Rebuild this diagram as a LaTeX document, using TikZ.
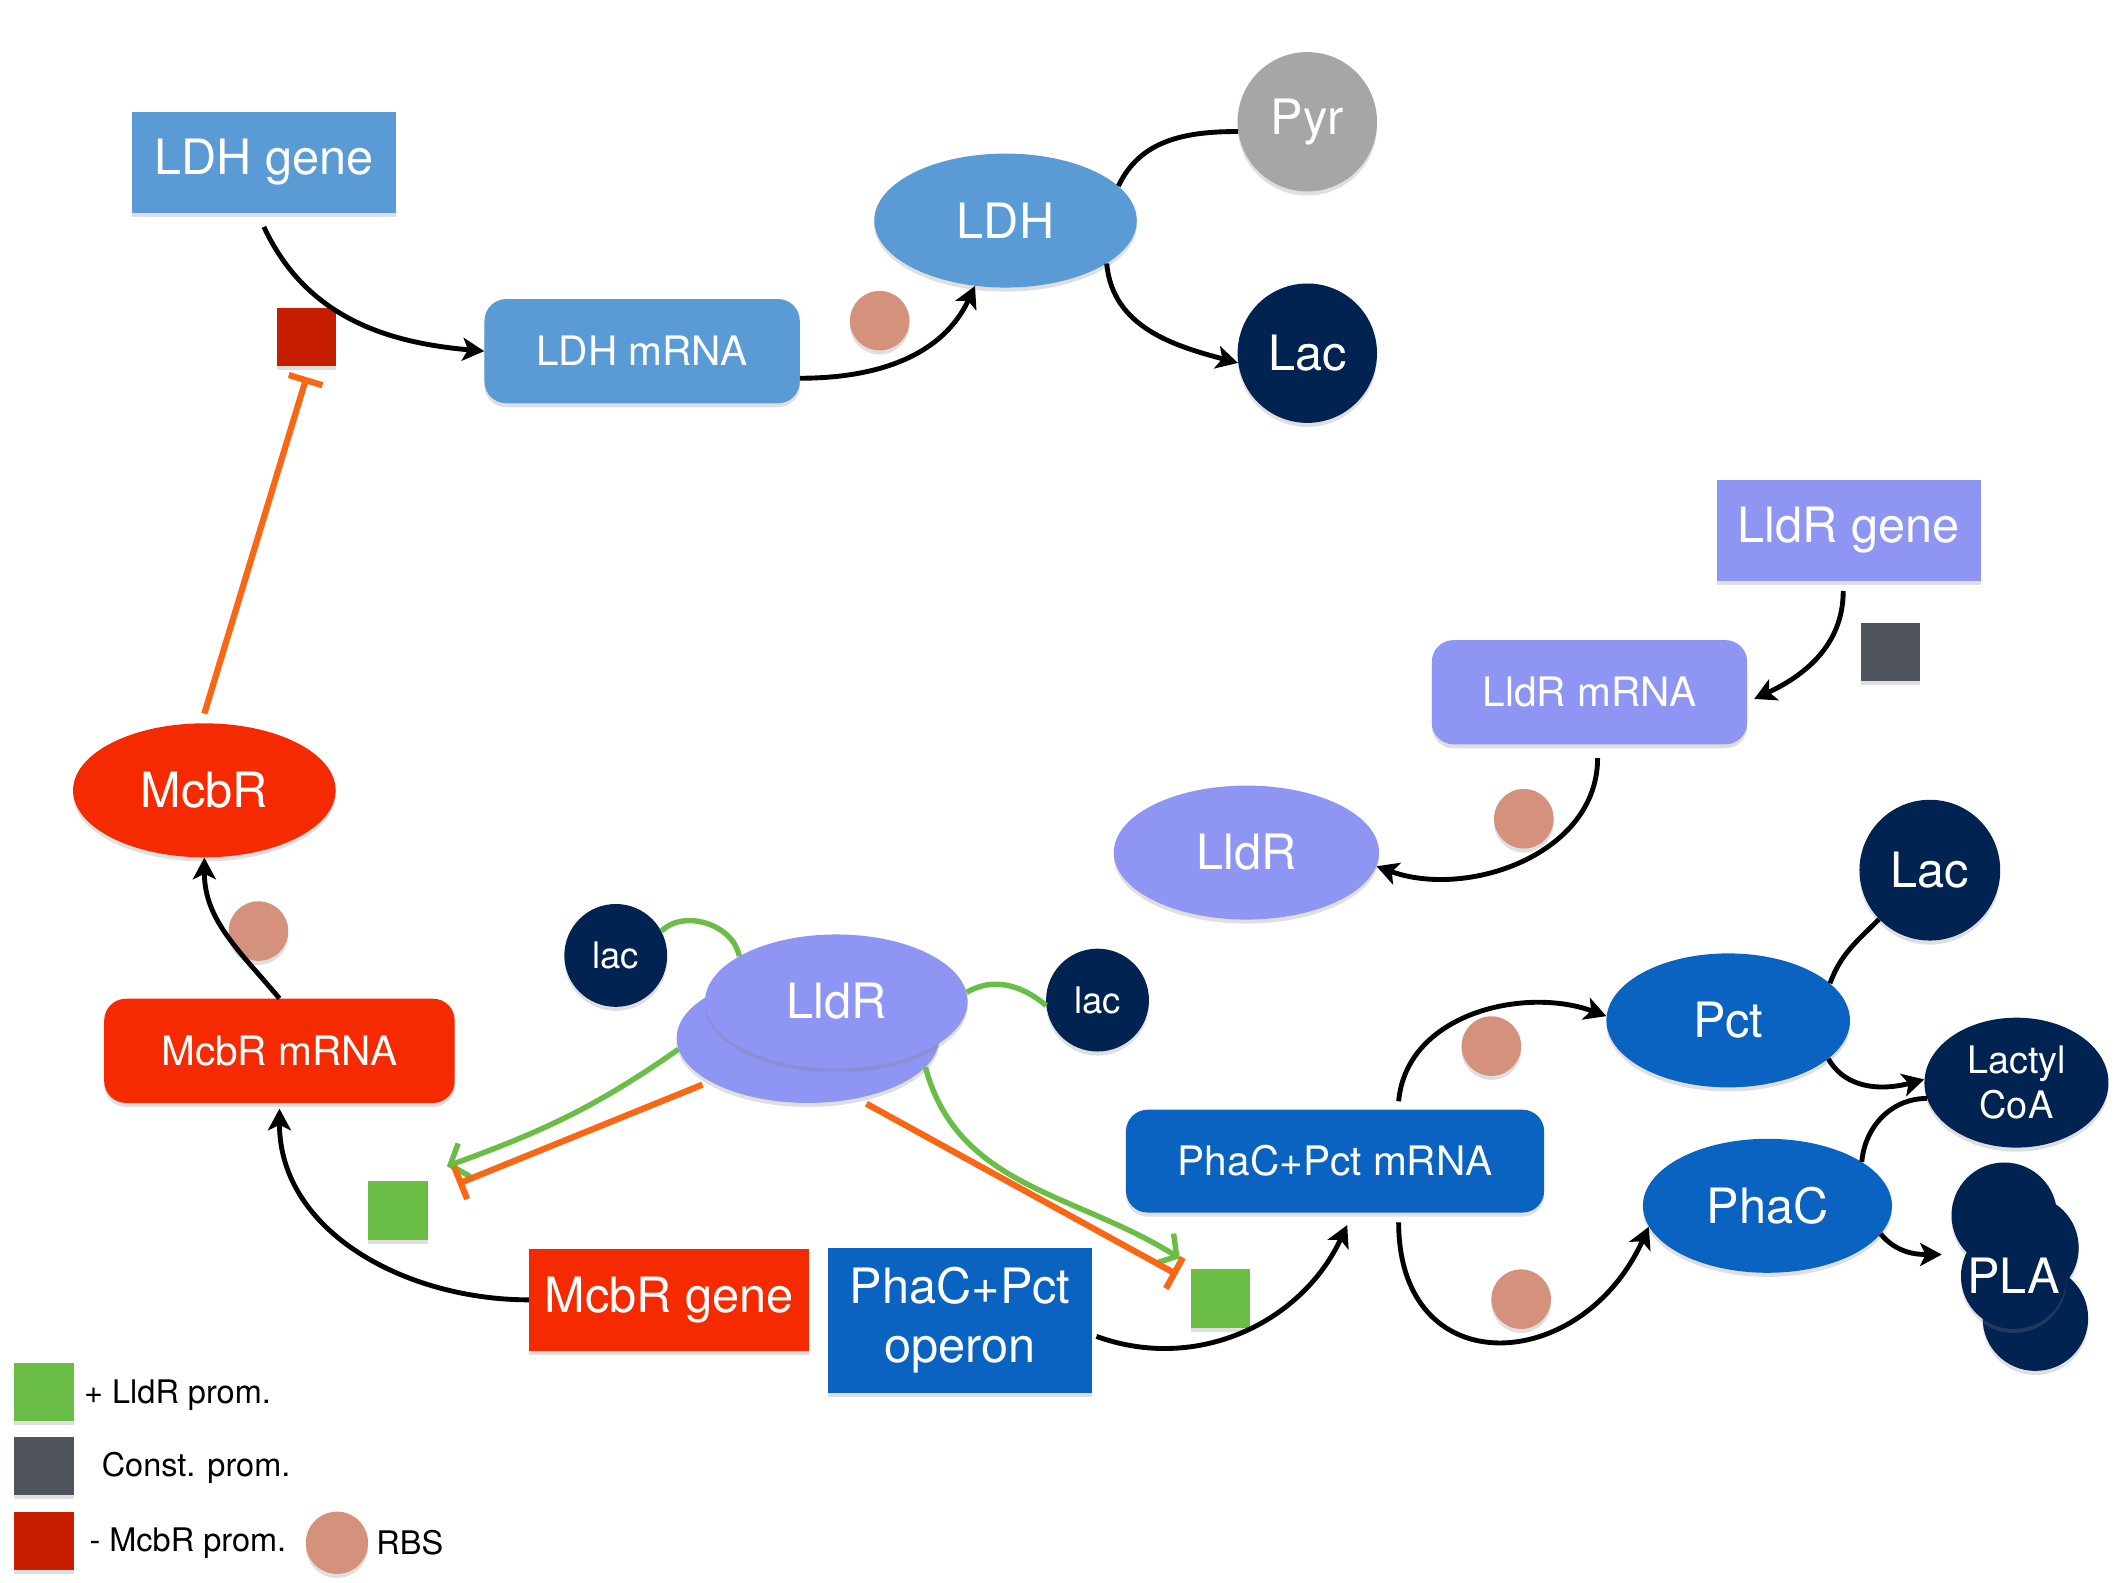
\documentclass[tikz,border=0pt]{standalone}
\usepackage{fontspec}
\setmainfont{TeX Gyre Heros}
\usepackage{tikz}
\usetikzlibrary{shapes.geometric, arrows.meta, shadows}

\definecolor{ldhblue}{HTML}{5B9BD5}
\definecolor{lldrblue}{HTML}{8F95F2}
\definecolor{mcbred}{HTML}{F52A00}
\definecolor{phablue}{HTML}{0A63C1}
\definecolor{navy}{HTML}{002352}
\definecolor{pyrgray}{HTML}{A6A6A6}
\definecolor{rbscol}{HTML}{D4917B}
\definecolor{promgreen}{HTML}{6ABD45}
\definecolor{promgray}{HTML}{50545C}
\definecolor{promred}{HTML}{C71E00}
\definecolor{inhorange}{HTML}{FA6714}

\begin{document}
\begin{tikzpicture}[x=1pt, y=1pt,
    shad/.style = {drop shadow={shadow xshift=0pt, shadow yshift=-3pt, opacity=0.25}},
    gene/.style = {rectangle, shad, inner sep=0pt, minimum width=195pt, minimum height=75pt, text=white, font=\fontsize{36}{43}\selectfont},
    mrna/.style = {rectangle, shad, rounded corners=16pt, inner sep=0pt, minimum width=233pt, minimum height=77pt, text=white, font=\fontsize{30}{36}\selectfont},
    prot/.style = {ellipse, shad, inner sep=0pt, minimum width=194pt, minimum height=99pt, text=white, font=\fontsize{36}{43}\selectfont},
    mol/.style = {circle, shad, inner sep=0pt, fill=navy, text=white, minimum size=103pt, font=\fontsize{36}{43}\selectfont},
    lac/.style = {circle, shad, inner sep=0pt, fill=navy, text=white, minimum size=76pt, font=\fontsize{27}{32}\selectfont},
    prom/.style = {rectangle, shad, inner sep=0pt, minimum width=44pt, minimum height=43pt},
    rbs/.style = {circle, shad, inner sep=0pt, fill=rbscol, minimum size=44pt},
    legtext/.style = {anchor=west, inner sep=0pt, font=\fontsize{24}{28}\selectfont},
    flow/.style = {line width=3.6pt, -{Stealth[length=16pt, width=17pt, inset=4pt]}},
    link/.style = {line width=3.6pt},
    act/.style = {promgreen, line width=4pt, -{Straight Barb[length=11pt, width=26pt]}},
    inh/.style = {inhorange, line width=4.6pt, -{Bar[width=26pt]}}]
    \useasboundingbox (0,0) rectangle (1568,1169);

    \node[gene, fill=ldhblue] (1) at (195,1049) {LDH gene};
    \node[mrna, fill=ldhblue] (2) at (474.5,909.5) {LDH mRNA};
    \node[prot, fill=ldhblue] (3) at (743,1006) {LDH};
    \node[mol, fill=pyrgray] (4) at (966,1079) {Pyr};
    \node[mol] (5) at (966,908) {Lac};
    \node[prom, fill=promred] (6) at (226.5,920) {};
    \node[rbs] (7) at (650,932) {};

    \node[gene, fill=lldrblue] (8) at (1366,777) {LldR gene};
    \node[prom, fill=promgray] (9) at (1397,687) {};
    \node[mrna, fill=lldrblue] (10) at (1174.5,657.5) {LldR mRNA};
    \node[prot, fill=lldrblue, minimum width=196pt] (11) at (921,539) {LldR};
    \node[rbs] (12) at (1126,564) {};

    \node[prot, fill=mcbred] (13) at (151,585) {McbR};
    \node[rbs] (14) at (191,481) {};
    \node[mrna, fill=mcbred, minimum width=259pt] (15) at (206.5,392.5) {McbR mRNA};
    \node[prom, fill=promgreen] (16) at (294,274.5) {};
    \node[gene, fill=mcbred, minimum width=207pt] (17) at (494.5,208.5) {McbR gene};
    \node[gene, fill=phablue, minimum height=107pt, align=center] (18) at (709.5,193.5) {PhaC+Pct\\operon};

    \node[lac] (19) at (455,463) {lac};
    \node[lac] (20) at (811,430) {lac};
    \node[prot, fill=lldrblue, minimum height=96pt] (21) at (597,402) {};
    \node[prot, fill=lldrblue] (22) at (618,429) {LldR};
    \node[prom, fill=promgreen] (23) at (902,209.5) {};

    \node[mrna, fill=phablue, minimum width=309pt, minimum height=76pt] (24) at (986.5,311) {PhaC+Pct mRNA};
    \node[prot, fill=phablue, minimum width=180pt] (25) at (1277,415) {Pct};
    \node[prot, fill=phablue, minimum width=184pt] (26) at (1306,278) {PhaC};
    \node[rbs] (27) at (1102,396) {};
    \node[rbs] (28) at (1124,209) {};
    \node[mol, minimum size=104pt] (29) at (1426,526) {Lac};
    \node[prot, fill=navy, minimum width=136pt, minimum height=96pt, align=center, font=\fontsize{28}{33}\selectfont] (30) at (1490,369) {Lactyl\\CoA};
    \node[lac, minimum size=78pt] (31) at (1481,271) {};
    \node[lac, minimum size=78pt] (32) at (1497,247) {};
    \node[lac, minimum size=78pt] (34) at (1504,195) {};
    \node[lac, minimum size=78pt, font=\fontsize{36}{43}\selectfont] (33) at (1488,226) {PLA};

    \node[prom, fill=promgreen] (35) at (32.5,140.5) {};
    \node[legtext] (36) at (62,138) {+ LldR prom.};
    \node[prom, fill=promgray] (37) at (32.5,85.5) {};
    \node[legtext] (38) at (75,84) {Const. prom.};
    \node[prom, fill=promred] (39) at (32.5,30.5) {};
    \node[legtext] (40) at (66,29) {- McbR prom.};
    \node[rbs, minimum size=46pt] (41) at (249,29) {};
    \node[legtext] (42) at (278,29) {RBS};

    \draw[flow] ([yshift=-10pt]1.south) to[out=-65, in=175] (2.west);
    \draw[flow] ([yshift=-20pt]2.east) to[out=0, in=-115] (3.245);
    \draw[flow] (3.-23) to[out=-85, in=165] (5.188);
    \draw[link] (4.188) to[out=180, in=65] (3.17);

    \draw[flow] ([xshift=-4pt, yshift=-7pt]8.south) to[out=-90, in=25] ([xshift=5pt, yshift=-5pt]10.east);
    \draw[flow] ([xshift=6pt, yshift=-10pt]10.south) to[out=-90, in=-20] (11.-6);

    \draw[flow] (15.north) to[out=130, in=-90] (13.south);
    \draw[flow] (17.west) to[out=180, in=-90] ([yshift=-4pt]15.south);
    \draw[inh] ([yshift=7pt]13.north) -- ([yshift=-8pt]6.south);

    \draw[promgreen, line width=4pt] (19.28) to[out=45, in=100] (22.155);
    \draw[promgreen, line width=4pt] (22.4) to[out=30, in=140] (20.186);
    \draw[act] (21.185) to[out=-145, in=20] ([xshift=14pt, yshift=11pt]16.north east);
    \draw[inh, shorten <=6pt] (21.204) -- ([xshift=22pt, yshift=-2pt]16.north east);
    \draw[act] (21.-14) to[out=-75, in=148] ([xshift=-8pt, yshift=8pt]23.north west);
    \draw[inh, shorten <=8pt] (21.-51) -- ([xshift=-10pt, yshift=-4pt]23.north west);

    \draw[flow] ([xshift=3pt, yshift=-12pt]18.east) to[out=-20, in=-115] ([xshift=9pt, yshift=-9pt]24.south);
    \draw[flow] ([xshift=47pt, yshift=6pt]24.north) to[out=85, in=160] (25.178);
    \draw[flow] ([xshift=47pt, yshift=-7pt]24.south) .. controls +(0,-120) and +(-50,-110) .. (26.190);
    \draw[link] (29.224) to[out=-135, in=70] (25.20);
    \draw[flow] (25.-21) to[out=-60, in=-165] (30.178);
    \draw[link] (30.190) to[out=180, in=85] (26.25);
    \draw[flow] (26.-14) to[out=-50, in=180] ([xshift=-14pt, yshift=16pt]33.west);
\end{tikzpicture}
\end{document}
